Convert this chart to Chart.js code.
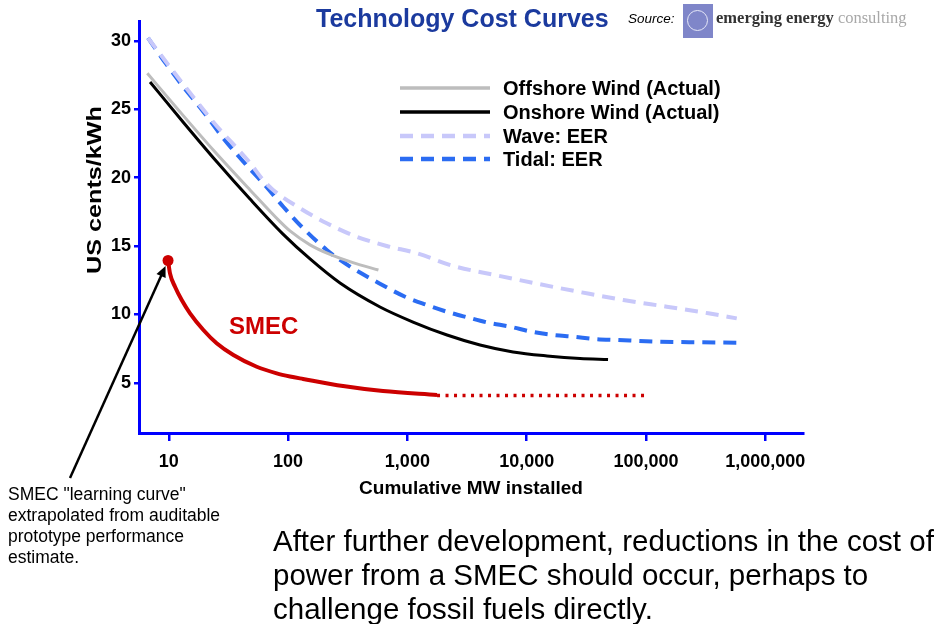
<!DOCTYPE html>
<html>
<head>
<meta charset="utf-8">
<script src="https://cdn.jsdelivr.net/npm/chart.js@4.4.1/dist/chart.umd.min.js"></script>
<style>
  html, body { margin: 0; padding: 0; background: #fff; }
  body { width: 941px; height: 624px; position: relative; overflow: hidden; font-family: Arial, "Liberation Sans", sans-serif; }
  #cost { position: absolute; left: 0; top: 0; }
  .txt { position: absolute; white-space: nowrap; }
  #title { left: 316px; top: 4px; font-size: 25px; font-weight: bold; color: #1b3a9e; }
  #source { left: 628px; top: 11px; font-size: 13.5px; font-style: italic; color: #000; }
  #logo { position: absolute; left: 683px; top: 4px; width: 30px; height: 34px; background: #7f86c9; }
  #logo div { position: absolute; left: 4px; top: 6px; width: 19px; height: 19px; border: 1.5px solid #e6e8f8; border-radius: 50%; }
  #eec { left: 716px; top: 8px; font-family: "Liberation Serif", "DejaVu Serif", serif; font-size: 16.5px; }
  #eec b { color: #333; }
  #eec span { color: #a8a8a8; }
  #smec { left: 229px; top: 312px; font-size: 24px; font-weight: bold; color: #cc0000; }
  #note { left: 8px; top: 484px; font-size: 17.5px; line-height: 21px; color: #000; }
  #summary { left: 273px; top: 524px; font-size: 29.5px; line-height: 34px; color: #000; }
</style>
</head>
<body>
<canvas id="cost" width="941" height="624"></canvas>
<div class="txt" id="title">Technology Cost Curves</div>
<div class="txt" id="source">Source:</div>
<div id="logo"><div></div></div>
<div class="txt" id="eec"><b>emerging energy</b> <span>consulting</span></div>
<div class="txt" id="smec">SMEC</div>
<div class="txt" id="note">SMEC "learning curve"<br>extrapolated from auditable<br>prototype performance<br>estimate.</div>
<div class="txt" id="summary">After further development, reductions in the cost of<br>power from a SMEC should occur, perhaps to<br>challenge fossil fuels directly.</div>
<script>
// cumulative installed capacity (MW) and cost (US cents/kWh) for each curve
const offshoreMW = [6.61, 12.4, 23.6, 48.0, 85.6, 103.8, 152.8, 224.7, 350, 572];
const offshoreCost = [27.63, 24.82, 22.02, 19.10, 16.78, 16.10, 15.08, 14.38, 13.78, 13.24];

const onshoreMW = [6.97, 13.17, 25.37, 47.98, 90.7, 152.8, 272.6, 590, 1115, 2149, 4064, 7684, 14810, 28010, 48070];
const onshoreCost = [26.99, 24.07, 21.14, 18.43, 15.87, 14.05, 12.29, 10.54, 9.44, 8.49, 7.76, 7.25, 6.96, 6.77, 6.70];

const waveMW = [6.70, 12.4, 24.4, 48.0, 61.7, 74.9, 126, 211, 376, 671, 1198, 2428, 5428, 12940, 28930, 64570, 149200, 333200, 576500];
const waveCost = [30.21, 27.14, 23.92, 21.07, 19.83, 19.10, 17.76, 16.66, 15.68, 15.0, 14.47, 13.54, 12.88, 12.20, 11.61, 11.05, 10.56, 10.08, 9.71];

const tidalMW = [6.70, 9.0, 13.2, 19.5, 28.7, 42.2, 62.0, 91.2, 134, 211, 331, 518, 956, 1453, 2133, 3158, 4770, 7252, 11020, 16730, 24600, 37410, 56860, 131100, 283800, 634900];
const tidalCost = [30.21, 28.60, 26.65, 24.82, 22.87, 21.16, 19.58, 17.87, 16.29, 14.71, 13.49, 12.51, 11.29, 10.69, 10.20, 9.79, 9.39, 9.10, 8.73, 8.49, 8.37, 8.20, 8.13, 8.00, 7.96, 7.93];

const smecMW = [9.86, 10.24, 11.28, 12.84, 15.07, 19.5, 25.2, 34.8, 54.6, 80.3, 103.8, 133.5, 288.8, 625, 1772];
const smecCost = [13.94, 13.0, 12.02, 11.05, 10.08, 8.86, 7.89, 7.03, 6.17, 5.69, 5.46, 5.28, 4.76, 4.39, 4.11];

// projected SMEC cost beyond the solid curve
const smecProjMW = [1772, 103000];
const smecProjCost = [4.07, 4.07];

const xTicks = [10, 100, 1000, 10000, 100000, 1000000];
const yTicks = [5, 10, 15, 20, 25, 30];

const legendLabels = ['Offshore Wind (Actual)', 'Onshore Wind (Actual)', 'Wave: EER', 'Tidal: EER'];

const FONT = 'Arial, "Liberation Sans", sans-serif';
const AXIS_BLUE = '#0000ff';

function pairs(xs, ys) {
    return xs.map((x, i) => ({ x: x, y: ys[i] }));
}

// legend drawn inside the plot, next to the curves
const costLegend = {
    id: 'costLegend',
    afterDraw(chart) {
        const ctx = chart.ctx;
        const rows = [88, 112, 136, 159];
        ctx.save();
        legendLabels.forEach((label, i) => {
            const ds = chart.data.datasets[i];
            const y = rows[i];
            ctx.beginPath();
            ctx.strokeStyle = ds.borderColor;
            ctx.lineWidth = ds.borderWidth + 0.5;
            ctx.setLineDash(ds.borderDash || []);
            ctx.moveTo(400, y);
            ctx.lineTo(490, y);
            ctx.stroke();
            ctx.setLineDash([]);
            ctx.fillStyle = '#000';
            ctx.font = 'bold 20px ' + FONT;
            ctx.textBaseline = 'middle';
            ctx.fillText(label, 503, y + 1);
        });
        ctx.restore();
    }
};

// vertical axis title, placed beside the upper ticks
const yTitle = {
    id: 'yTitle',
    afterDraw(chart) {
        const ctx = chart.ctx;
        ctx.save();
        ctx.translate(95, 190);
        ctx.rotate(-Math.PI / 2);
        ctx.scale(1.2, 1);
        ctx.font = 'bold 21px ' + FONT;
        ctx.fillStyle = '#000';
        ctx.textAlign = 'center';
        ctx.textBaseline = 'middle';
        ctx.fillText('US cents/kWh', 0, 0);
        ctx.restore();
    }
};

// arrow from the note up to the first SMEC estimate
const smecArrow = {
    id: 'smecArrow',
    afterDatasetsDraw(chart) {
        const meta = chart.getDatasetMeta(4);
        const dot = meta.data[0];
        const ctx = chart.ctx;
        const sx = 70, sy = 478;
        const dx = dot.x - sx, dy = dot.y - sy;
        const len = Math.sqrt(dx * dx + dy * dy);
        const ux = dx / len, uy = dy / len;
        const tx = dot.x - ux * 6, ty = dot.y - uy * 6;
        ctx.save();
        ctx.strokeStyle = '#000';
        ctx.fillStyle = '#000';
        ctx.lineWidth = 2.5;
        ctx.beginPath();
        ctx.moveTo(sx, sy);
        ctx.lineTo(tx - ux * 8, ty - uy * 8);
        ctx.stroke();
        ctx.beginPath();
        ctx.moveTo(tx, ty);
        ctx.lineTo(tx - ux * 11 - uy * 5, ty - uy * 11 + ux * 5);
        ctx.lineTo(tx - ux * 11 + uy * 5, ty - uy * 11 - ux * 5);
        ctx.closePath();
        ctx.fill();
        ctx.restore();
    }
};

const ctx = document.getElementById('cost').getContext('2d');

new Chart(ctx, {
    type: 'line',
    data: {
        datasets: [
            {
                label: legendLabels[0],
                data: pairs(offshoreMW, offshoreCost),
                borderColor: '#bdbdbd',
                borderWidth: 3,
                pointRadius: 0,
                cubicInterpolationMode: 'monotone'
            },
            {
                label: legendLabels[1],
                data: pairs(onshoreMW, onshoreCost),
                borderColor: '#000000',
                borderWidth: 3,
                pointRadius: 0,
                cubicInterpolationMode: 'monotone'
            },
            {
                label: legendLabels[2],
                data: pairs(waveMW, waveCost),
                borderColor: '#c8c8fa',
                borderWidth: 4,
                borderDash: [13, 8],
                pointRadius: 0,
                cubicInterpolationMode: 'monotone'
            },
            {
                label: legendLabels[3],
                data: pairs(tidalMW, tidalCost),
                borderColor: '#2b6cf2',
                borderWidth: 4,
                borderDash: [13, 8],
                pointRadius: 0,
                cubicInterpolationMode: 'monotone'
            },
            {
                label: 'SMEC',
                data: pairs(smecMW, smecCost),
                borderColor: '#cc0000',
                backgroundColor: '#cc0000',
                borderWidth: 4,
                pointRadius: ctx => ctx.dataIndex === 0 ? 5.5 : 0,
                pointBorderWidth: 0,
                cubicInterpolationMode: 'monotone'
            },
            {
                label: 'SMEC projected',
                data: pairs(smecProjMW, smecProjCost),
                borderColor: '#cc0000',
                borderWidth: 3.5,
                borderDash: [3, 5.5],
                pointRadius: 0
            }
        ]
    },
    options: {
        responsive: false,
        animation: false,
        layout: {
            padding: { top: 21, right: 138, left: 0, bottom: 0 }
        },
        plugins: {
            legend: { display: false },
            tooltip: { enabled: false }
        },
        scales: {
            x: {
                type: 'logarithmic',
                min: 5.63,
                max: 2.07e6,
                afterBuildTicks: scale => {
                    scale.ticks = xTicks.map(v => ({ value: v }));
                },
                afterFit: scale => {
                    scale.height = 191;
                },
                border: { color: AXIS_BLUE, width: 3 },
                grid: { drawOnChartArea: false, color: AXIS_BLUE, lineWidth: 2.5, tickLength: 8 },
                ticks: {
                    color: '#000',
                    padding: 10,
                    autoSkip: false,
                    maxRotation: 0,
                    font: { family: FONT, size: 18, weight: 'bold' },
                    callback: value => Number(value).toLocaleString('en-US')
                },
                title: {
                    display: true,
                    text: 'Cumulative MW installed',
                    color: '#000',
                    font: { family: FONT, size: 19, weight: 'bold' },
                    padding: { top: 0, bottom: 124 }
                }
            },
            y: {
                type: 'linear',
                min: 1.327,
                max: 31.45,
                afterBuildTicks: scale => {
                    scale.ticks = yTicks.map(v => ({ value: v }));
                },
                afterFit: scale => {
                    scale.width = 139;
                },
                border: { color: AXIS_BLUE, width: 3 },
                grid: { drawOnChartArea: false, color: AXIS_BLUE, lineWidth: 2.5, tickLength: 5 },
                ticks: {
                    color: '#000',
                    padding: 3,
                    font: { family: FONT, size: 18, weight: 'bold' }
                },
                title: { display: false }
            }
        }
    },
    plugins: [costLegend, yTitle, smecArrow]
});
</script>
</body>
</html>
